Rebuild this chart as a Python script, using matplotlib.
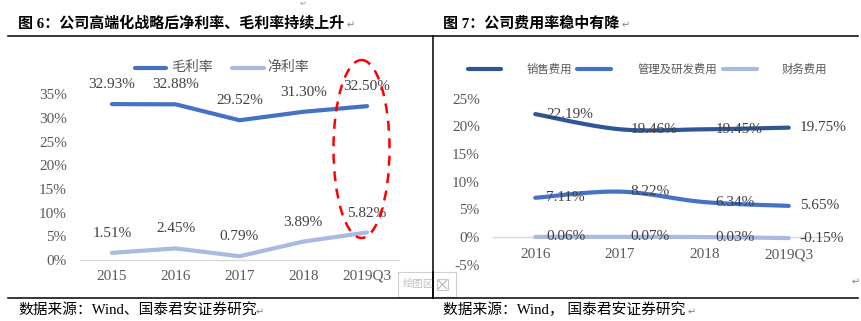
import numpy as np
import matplotlib
matplotlib.use("Agg")
import matplotlib.pyplot as plt
from matplotlib.patches import Ellipse, Rectangle
from matplotlib.ticker import FuncFormatter, MultipleLocator

# ---------------- data ----------------
years_left = ["2015", "2016", "2017", "2018", "2019Q3"]
gross_margin = [32.93, 32.88, 29.52, 31.30, 32.50]
net_margin = [1.51, 2.45, 0.79, 3.89, 5.82]

years_right = ["2016", "2017", "2018", "2019Q3"]
selling_exp = [22.19, 19.46, 19.45, 19.75]
admin_rd_exp = [7.11, 8.22, 6.34, 5.65]
finance_exp = [0.06, 0.07, 0.03, -0.15]

title_left = "图 6：公司高端化战略后净利率、毛利率持续上升"
title_right = "图 7：公司费用率稳中有降"
source_left = "数据来源：Wind、国泰君安证券研究"
source_right = "数据来源：Wind， 国泰君安证券研究"

W, H = 861, 321
fig = plt.figure(figsize=(W / 100, H / 100), dpi=100)
fig.patch.set_facecolor("white")

SERIF = ["Liberation Serif", "Noto Sans CJK SC", "DejaVu Sans"]
CJK = ["Noto Sans CJK SC", "DejaVu Sans"]
GREY = "#595959"
AXGREY = "#D9D9D9"


def px_axes(x0, x1, ytop, ybot):
    return fig.add_axes([x0 / W, (H - ybot) / H, (x1 - x0) / W, (ybot - ytop) / H])


def smooth(xs, ys, n=40):
    p = np.column_stack([xs, ys]).astype(float)
    p_ext = np.vstack([p[0], p, p[-1]])
    out = []
    t = np.linspace(0, 1, n)[:, None]
    for i in range(1, len(p_ext) - 2):
        P0, P1, P2, P3 = p_ext[i - 1], p_ext[i], p_ext[i + 1], p_ext[i + 2]
        C1 = P1 + (P2 - P0) / 6.0
        C2 = P2 - (P3 - P1) / 6.0
        seg = ((1 - t) ** 3) * P1 + 3 * ((1 - t) ** 2) * t * C1 + 3 * (1 - t) * t ** 2 * C2 + t ** 3 * P2
        out.append(seg if i == 1 else seg[1:])
    out = np.vstack(out)
    return out[:, 0], out[:, 1]


pct = FuncFormatter(lambda v, _: f"{v:.0f}%")

# ---------------- left chart ----------------
axL = px_axes(80, 399, 94.3, 260)
xL = np.arange(len(years_left))
axL.plot(xL, gross_margin, color="#4472C4", lw=3, solid_capstyle="round", solid_joinstyle="round")
axL.plot(xL, net_margin, color="#A9B9E0", lw=3, solid_capstyle="round", solid_joinstyle="round")
axL.set_xlim(-0.5, len(years_left) - 0.5)
axL.set_ylim(0, 35)
axL.yaxis.set_major_locator(MultipleLocator(5))
axL.yaxis.set_major_formatter(pct)
axL.set_xticks(xL)
axL.set_xticklabels(years_left)
for s in ["top", "right", "left"]:
    axL.spines[s].set_visible(False)
axL.spines["bottom"].set_color(AXGREY)
axL.spines["bottom"].set_linewidth(1)
axL.tick_params(axis="both", length=0, labelsize=11, labelcolor=GREY)
axL.tick_params(axis="y", pad=9.5)
axL.tick_params(axis="x", pad=7)
for lab in axL.get_xticklabels() + axL.get_yticklabels():
    lab.set_fontfamily(SERIF)
for xi, v in zip(xL, gross_margin):
    axL.annotate(f"{v:.2f}%", (xi, v), xytext=(0, 14), textcoords="offset points",
                 ha="center", va="center", fontsize=11, color="#404040",
                 family=SERIF, annotation_clip=False)
for xi, v in zip(xL, net_margin):
    axL.annotate(f"{v:.2f}%", (xi, v), xytext=(0, 14), textcoords="offset points",
                 ha="center", va="center", fontsize=11, color="#404040",
                 family=SERIF, annotation_clip=False)

# ---------------- right chart ----------------
axR = px_axes(493, 831, 98.5, 265)
xR = np.arange(len(years_right))
for vals, col in [(selling_exp, "#2F5597"), (admin_rd_exp, "#4472C4"), (finance_exp, "#A9B9E0")]:
    sx, sy = smooth(xR, vals)
    axR.plot(sx, sy, color=col, lw=3, solid_capstyle="round")
    for xi, v in zip(xR, vals):
        axR.annotate(f"{v:.2f}%", (xi, v), xytext=(8, 0), textcoords="offset points",
                     ha="left", va="center", fontsize=11, color="#404040",
                     family=SERIF, annotation_clip=False)
axR.set_xlim(-0.5, len(years_right) - 0.5)
axR.set_ylim(-5, 25)
axR.yaxis.set_major_locator(MultipleLocator(5))
axR.yaxis.set_major_formatter(pct)
axR.set_xticks(xR)
axR.set_xticklabels(years_right)
for s in ["top", "right", "left"]:
    axR.spines[s].set_visible(False)
axR.spines["bottom"].set_position(("data", 0))
axR.spines["bottom"].set_color(AXGREY)
axR.spines["bottom"].set_linewidth(1)
axR.spines["bottom"].set_zorder(0)
axR.tick_params(axis="both", length=0, labelsize=11, labelcolor=GREY)
axR.tick_params(axis="y", pad=9.5)
axR.tick_params(axis="x", pad=8)
for lab in axR.get_xticklabels() + axR.get_yticklabels():
    lab.set_fontfamily(SERIF)

# ---------------- overlay: frame, titles, legends ----------------
ov = fig.add_axes([0, 0, 1, 1], zorder=10)
ov.set_xlim(0, W)
ov.set_ylim(H, 0)
ov.axis("off")
ov.patch.set_alpha(0)

ov.plot([8, 858], [35.5, 35.5], color="black", lw=1.1)
ov.plot([8, 858], [297.5, 297.5], color="black", lw=1.1)
ov.plot([432.5, 432.5], [35.5, 297.5], color="black", lw=1.1)

ov.text(18, 23, title_left, fontsize=10.8, fontweight="bold", family=SERIF, va="center", ha="left")
ov.text(347, 25, "↵", fontsize=7, color="#808080", family=CJK, va="center", ha="left")
ov.text(443, 23, title_right, fontsize=10.8, fontweight="bold", family=SERIF, va="center", ha="left")
ov.text(622, 25, "↵", fontsize=7, color="#808080", family=CJK, va="center", ha="left")
ov.text(300, 3, "↵", fontsize=6, color="#A0A0A0", family=CJK, va="center", ha="left")

ov.text(18, 310, source_left, fontsize=10.6, family=SERIF, va="center", ha="left")
ov.text(256, 312, "↵", fontsize=7, color="#808080", family=CJK, va="center", ha="left")
ov.text(443, 310, source_right, fontsize=10.6, family=SERIF, va="center", ha="left")
ov.text(688, 312, "↵", fontsize=7, color="#808080", family=CJK, va="center", ha="left")
ov.text(852, 282, "↵", fontsize=7, color="#808080", family=CJK, va="center", ha="left")

# left legend
ov.plot([135, 166], [68, 68], color="#4472C4", lw=3, solid_capstyle="round")
ov.text(171, 67, "毛利率", fontsize=10, color=GREY, family=CJK, va="center", ha="left")
ov.plot([232, 264], [68, 68], color="#A9B9E0", lw=3, solid_capstyle="round")
ov.text(267, 67, "净利率", fontsize=10, color=GREY, family=CJK, va="center", ha="left")

# right legend
ov.plot([468, 501], [69, 69], color="#2F5597", lw=3, solid_capstyle="round")
ov.text(527, 69, "销售费用", fontsize=8.2, color=GREY, family=CJK, va="center", ha="left")
ov.plot([577, 611], [69, 69], color="#4472C4", lw=3, solid_capstyle="round")
ov.text(637, 69, "管理及研发费用", fontsize=8.2, color=GREY, family=CJK, va="center", ha="left")
ov.plot([723, 757], [69, 69], color="#A9B9E0", lw=3, solid_capstyle="round")
ov.text(782, 69, "财务费用", fontsize=8.2, color=GREY, family=CJK, va="center", ha="left")

# red dashed ellipse
ov.add_patch(Ellipse((361.5, 149), 56, 178, fill=False, edgecolor="#FF0000", lw=1.8,
                     linestyle=(0, (4, 3))))

# tooltip artefact
ov.add_patch(Rectangle((398, 272), 58, 25, facecolor="white", edgecolor="#D0D0D0", lw=0.8, zorder=1))
ov.text(403, 284, "绘图区", fontsize=7.5, color="#C0C0C0", family=CJK, va="center", ha="left", zorder=2)
ov.plot([432.5, 432.5], [272, 297.5], color="black", lw=1.1, zorder=3)
ov.add_patch(Rectangle((437, 279), 11, 11, facecolor="white", edgecolor="#C8C8C8", lw=0.8, zorder=3))
ov.plot([438.5, 446.5], [280.5, 288.5], color="#B0B0B0", lw=0.8, zorder=4)
ov.plot([438.5, 446.5], [288.5, 280.5], color="#B0B0B0", lw=0.8, zorder=4)

fig.savefig("out.png", dpi=100, facecolor="white")
